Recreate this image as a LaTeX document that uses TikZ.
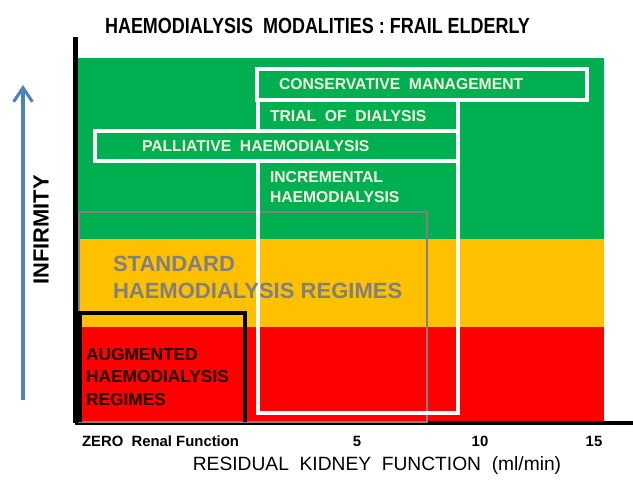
\documentclass[tikz,border=0pt]{standalone}
\usepackage{fontspec}
\setmainfont{Liberation Sans}
\newfontfamily\narrowfont[FakeStretch=0.82]{Liberation Sans}
\usepackage{tikz}
\usetikzlibrary {arrows.meta,
                 positioning}
\definecolor{zonegreen}{RGB}{0,176,80}
\definecolor{zoneamber}{RGB}{255,192,0}
\definecolor{zonered}{RGB}{255,0,0}
\definecolor{arrowblue}{RGB}{79,129,189}
\definecolor{framegray}{RGB}{128,128,128}
\definecolor{boxtext}{RGB}{244,244,226}
\definecolor{augtext}{RGB}{30,0,0}
\tikzset{
        base/.style={inner sep=0pt, outer sep=0pt, align=left, anchor=west},
        boxlbl/.style={base, font=\fontsize{13.4}{17}\selectfont\bfseries,
                       text=boxtext},
        stdlbl/.style={base, font=\fontsize{18.8}{23}\selectfont\bfseries,
                       text=framegray},
        auglbl/.style={base, font=\fontsize{14.8}{19.5}\selectfont\bfseries,
                       text=augtext},
        ticklbl/.style={base, font=\fontsize{12.7}{15}\selectfont\bfseries},
        whiteframe/.style={draw=white, line width=3.2pt},
        grayframe/.style={draw=framegray, line width=2.4pt},
        blackframe/.style={draw=black, line width=3.4pt},
        axisline/.style={draw=black, line width=3.4pt},
        myarrow/.style={-{Straight Barb[length=12pt, width=16pt]},
                        draw=arrowblue, line width=2.6pt},
 }
\begin{document}
\begin{tikzpicture}[x=0.03cm, y=-0.03cm]
    \useasboundingbox (0,0) rectangle (633,482);

    % infirmity bands
    \fill[zonegreen] (78,58) rectangle (604,239);
    \fill[zoneamber] (78,239) rectangle (604,327);
    \fill[zonered] (78,327) rectangle (604,422);

    % axes
    \draw[axisline, line width=4.3pt] (75.5,37) -- (75.5,423);
    \draw[axisline] (75,423) -- (633,423);

    % regime frames
    \draw[grayframe] (79,212) rectangle (427,422);
    \draw[blackframe] (80,422) |- (245,313) -- (245,422);

    % option boxes
    \draw[whiteframe] (258,100) rectangle (458,413);
    \draw[whiteframe, fill=zonegreen] (257,69) rectangle (587,100);
    \draw[whiteframe, fill=zonegreen] (95,131) rectangle (458,161);

    \node[boxlbl] (cons) at (279,84) {CONSERVATIVE\ \ MANAGEMENT};
    \node[boxlbl] (trial) at (270,116) {TRIAL\ \ OF\ \ DIALYSIS};
    \node[boxlbl] (pall) at (142,146) {PALLIATIVE\ \ HAEMODIALYSIS};
    \node[boxlbl] (incr) at (270,187) {INCREMENTAL\\HAEMODIALYSIS};
    \node[stdlbl] (std) at (113,277) {STANDARD\\HAEMODIALYSIS REGIMES};
    \node[auglbl] (aug) at (86,377) {AUGMENTED\\HAEMODIALYSIS\\REGIMES};

    % titles and axis labels
    \node[base, anchor=center,
          font=\fontsize{18.7}{22}\selectfont\narrowfont\bfseries]
         (title) at (317.5,26) {HAEMODIALYSIS\ \ MODALITIES : FRAIL ELDERLY};
    \node[base, anchor=center, rotate=90,
          font=\fontsize{18.7}{22}\selectfont\bfseries]
         (infirm) at (41,230) {INFIRMITY};
    \node[ticklbl] (zero) at (82,441) {ZERO\ \ Renal Function};
    \node[ticklbl, anchor=center] (five) at (357,441) {5};
    \node[ticklbl, anchor=center] (ten) at (480,441) {10};
    \node[ticklbl, anchor=center] (fifteen) at (594,441) {15};
    \node[base, anchor=center, font=\fontsize{16.4}{20}\selectfont]
         (rkf) at (377,466) {RESIDUAL\ \ KIDNEY\ \ FUNCTION\ \ (ml/min)};

    \coordinate (foot) at (23,400);
    \coordinate (tip) at (23,85);
    \draw[myarrow] (foot) -- (tip);
\end{tikzpicture}
\end{document}
